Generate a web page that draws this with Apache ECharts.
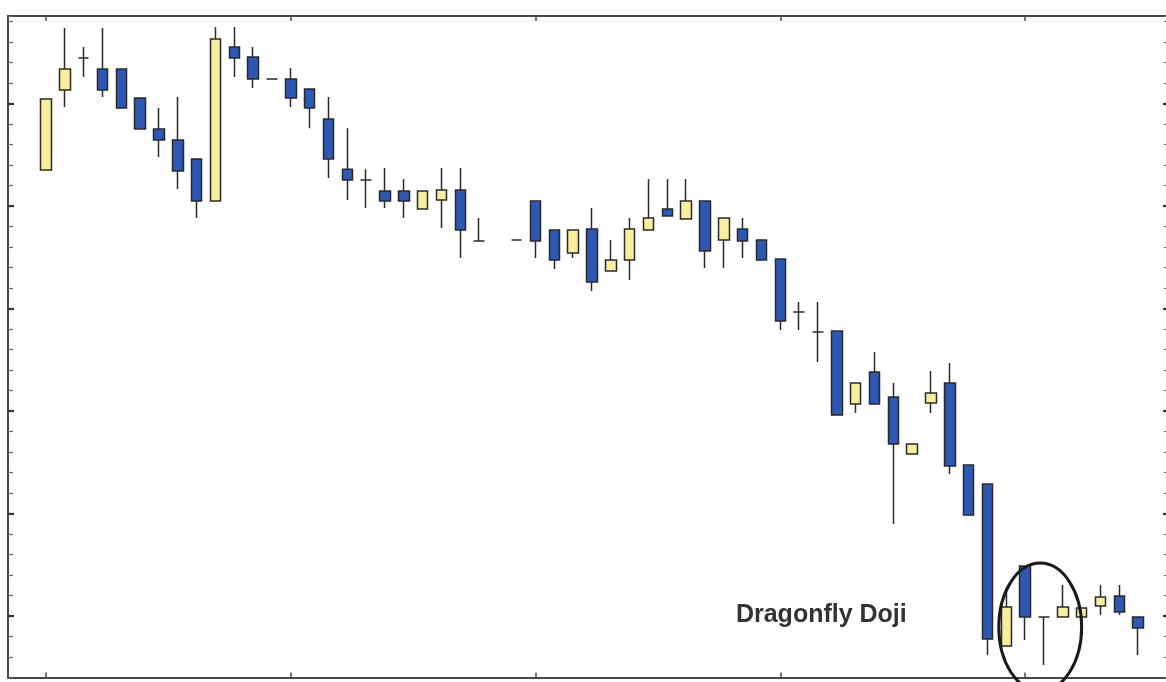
<!DOCTYPE html>
<html>
<head>
<meta charset="utf-8">
<script src="https://cdn.jsdelivr.net/npm/echarts@6/dist/echarts.min.js"></script>
<style>
  html, body { margin: 0; padding: 0; background: #ffffff; }
  #chart { width: 1166px; height: 682px; }
</style>
</head>
<body>
<div id="chart"></div>
<script>
// Session index (day 24 has no trade)
const dayIndex = [0,1,2,3,4,5,6,7,8,9,10,11,12,13,14,15,16,17,18,19,20,21,22,23,
  25,26,27,28,29,30,31,32,33,34,35,36,37,38,39,40,41,42,43,44,45,46,47,48,49,50,51,52,53,54,55,56,57,58];
const openValues = [71.76,75.66,77.22,76.68,76.68,75.27,73.76,73.22,72.29,70.24,77.76,77.27,76.20,76.20,75.71,74.24,71.80,71.27,70.73,70.73,69.85,70.29,70.78,68.29,
  68.34,70.24,68.83,67.71,68.88,66.83,67.37,68.83,69.85,69.37,70.24,68.34,68.88,68.34,67.41,64.83,63.85,63.90,60.34,61.90,60.68,57.90,60.39,61.37,57.37,56.44,48.54,52.44,49.95,49.95,49.95,50.49,50.98,49.95];
const closeValues = [75.22,76.68,77.22,75.66,74.78,73.76,73.22,71.71,70.24,78.15,77.22,76.20,76.20,75.27,74.78,72.29,71.27,71.27,70.24,70.24,70.73,70.78,68.83,68.29,
  68.34,68.29,67.37,68.83,66.29,67.37,68.88,69.41,69.51,70.24,67.80,69.41,68.29,67.37,64.39,64.83,63.85,59.80,61.37,60.34,58.39,58.39,60.88,57.32,54.93,48.88,50.44,49.95,49.95,50.44,50.39,50.93,50.20,49.41];
const lowValues = [71.76,74.83,76.29,75.32,74.78,73.76,72.39,70.83,69.41,70.24,76.29,75.76,76.20,74.83,73.80,71.37,70.29,69.90,69.90,69.41,69.85,68.93,67.46,68.29,
  68.34,67.46,66.93,67.46,65.85,66.83,66.39,68.83,69.51,69.37,66.98,66.98,67.46,67.37,63.95,63.95,62.39,59.80,59.90,60.34,54.49,57.90,59.90,56.93,54.93,48.10,48.54,48.83,47.61,49.95,49.95,50.05,50.05,48.10];
const highValues = [75.22,78.68,77.76,78.68,76.68,75.27,74.78,75.32,72.29,78.73,78.73,77.76,76.20,76.73,75.71,75.32,73.80,71.80,71.85,71.32,70.73,71.85,71.85,69.41,
  68.34,70.24,68.83,68.83,69.90,68.34,69.41,71.32,71.32,71.32,70.24,69.41,69.41,68.34,67.41,65.32,65.32,63.90,61.37,62.88,61.37,58.39,61.95,62.34,57.37,56.44,51.40,52.44,49.95,51.51,50.39,51.51,51.51,49.95];
const xTickValues = [0, 13, 26, 39, 52];
const yMajorTicks = [50, 55, 60, 65, 70, 75];
const annotationText = 'Dragonfly Doji';

const candleData = dayIndex.map((d, i) => [d, openValues[i], closeValues[i], lowValues[i], highValues[i]]);

const chart = echarts.init(document.getElementById('chart'), null, { renderer: 'canvas' });

const lineColor = '#4a4a4a';
function xAxisDef(pos) {
  return {
    type: 'value', position: pos, min: -2.018, max: 59.48,
    axisLine: { show: true, onZero: false, lineStyle: { color: lineColor, width: 2 } },
    axisTick: { show: true, inside: true, length: 5, customValues: xTickValues, lineStyle: { color: lineColor, width: 1.5 } },
    axisLabel: { show: false }, splitLine: { show: false }
  };
}
function yAxisDef(pos, major) {
  const a = {
    type: 'value', position: pos, min: 47, max: 79.27,
    offset: pos === 'right' ? 3 : 0,
    axisLine: { show: !major, onZero: false, lineStyle: { color: lineColor, width: 2 } },
    axisTick: { show: true, inside: true, length: major ? 6 : 5, lineStyle: { color: major ? '#333' : '#666', width: major ? 2.2 : 1.2 } },
    axisLabel: { show: false }, splitLine: { show: false }
  };
  if (major) a.axisTick.customValues = yMajorTicks; else a.interval = 1;
  return a;
}

chart.setOption({
  animation: false,
  backgroundColor: '#ffffff',
  grid: { left: 8, right: 0, top: 16, bottom: 4.5, containLabel: false },
  xAxis: [xAxisDef('bottom'), xAxisDef('top')],
  yAxis: [yAxisDef('left', false), yAxisDef('right', false), yAxisDef('left', true), yAxisDef('right', true)],
  series: [{
    type: 'candlestick',
    xAxisIndex: 0, yAxisIndex: 0,
    barWidth: 11,
    encode: { x: 0, y: [1, 2, 3, 4] },
    itemStyle: {
      color: '#f7ee9e', color0: '#2d58b4',
      borderColor: '#2a2a2a', borderColor0: '#2a2a2a', borderWidth: 1.5
    },
    data: candleData
  }]
});

// annotation placed in data coordinates
const textPos = chart.convertToPixel({ xAxisIndex: 0, yAxisIndex: 0 }, [36.64, 50.02]);
const c = chart.convertToPixel({ xAxisIndex: 0, yAxisIndex: 0 }, [52.8, 49.46]);
const e1 = chart.convertToPixel({ xAxisIndex: 0, yAxisIndex: 0 }, [52.8 + 2.2, 49.46 + 3.12]);
chart.setOption({
  graphic: [
    { type: 'text', x: textPos[0], y: textPos[1], z: 10,
      style: { text: annotationText, fill: '#333333', font: 'bold 25px "Liberation Sans", Arial, sans-serif', textAlign: 'left', textVerticalAlign: 'middle' } },
    { type: 'ellipse', z: 10,
      shape: { cx: c[0], cy: c[1], rx: Math.abs(e1[0] - c[0]), ry: Math.abs(e1[1] - c[1]) },
      style: { fill: null, stroke: '#1a1a1a', lineWidth: 3 } }
  ]
});
</script>
</body>
</html>
